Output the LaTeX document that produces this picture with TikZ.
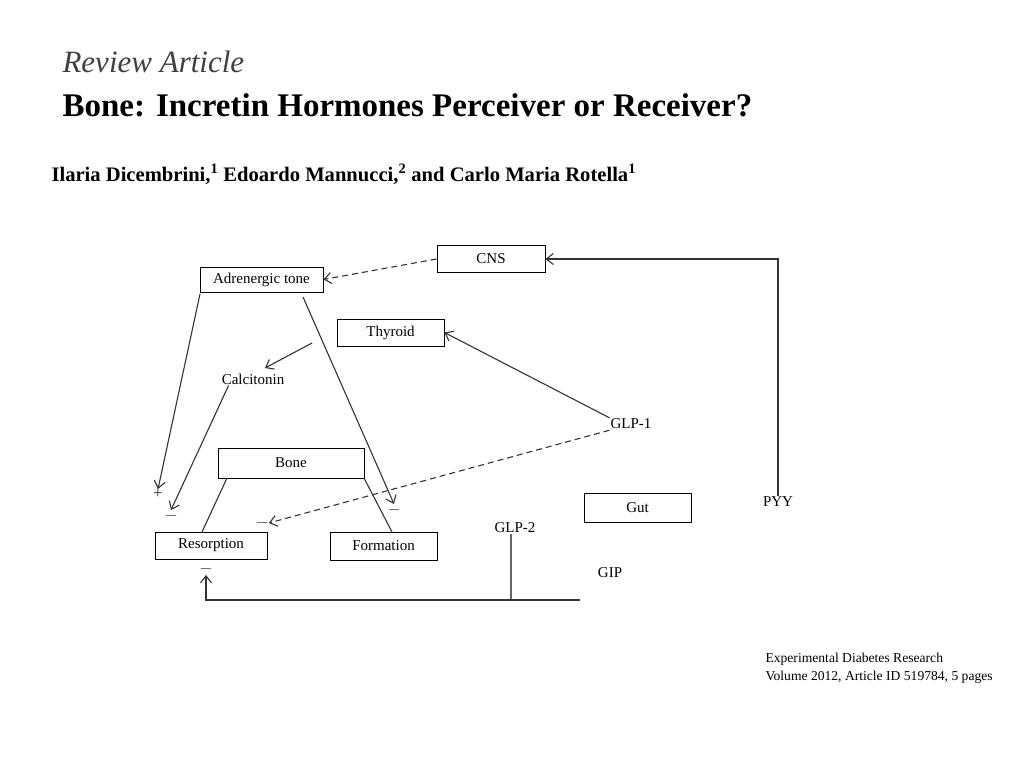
\documentclass[tikz,border=0pt]{standalone}
\usepackage{fontspec}
\setmainfont{Liberation Serif}
\usetikzlibrary{arrows.meta}
\begin{document}
\begin{tikzpicture}[x=1pt,y=-1pt,
  bx/.style={draw,line width=0.9pt,minimum height=27pt,inner sep=0pt,font=\fontsize{15}{17}\selectfont},
  lb/.style={font=\fontsize{15}{17}\selectfont,inner sep=1pt},
  ar/.style={-{Straight Barb[length=7pt,width=11pt]},line width=1.1pt,draw=black!80},
  ln/.style={line width=1.1pt,draw=black!80},
  dsh/.style={dash pattern=on 6pt off 4pt},
  sg/.style={font=\fontsize{17}{19}\selectfont,inner sep=0pt,text=black!80}]
\useasboundingbox (0,0) rectangle (1024,768);
\node[anchor=base west,font=\itshape\fontsize{31}{34}\selectfont,text=black!75] at (59,72) {Review Article};
\node[anchor=base west,font=\bfseries\fontsize{33}{36}\selectfont] at (59,116) {Bone: Incretin Hormones Perceiver or Receiver?};
\node[anchor=base west,font=\bfseries\fontsize{20.6}{23}\selectfont] at (48,181) {Ilaria Dicembrini,\textsuperscript{1} Edoardo Mannucci,\textsuperscript{2} and Carlo Maria Rotella\textsuperscript{1}};
\node[bx,minimum width=108pt] (cns) at (491,259) {CNS};
\node[bx,minimum width=123pt,minimum height=25pt] (adr) at (261.5,279.5) {Adrenergic tone};
\node[bx,minimum width=107pt] (thy) at (390.5,332.5) {Thyroid};
\node[bx,minimum width=146pt,minimum height=30pt] (bone) at (291,463) {Bone};
\node[bx,minimum width=112pt] (res) at (211,545.5) {Resorption};
\node[bx,minimum width=107pt,minimum height=28pt] (form) at (383.5,546) {Formation};
\node[bx,minimum width=107pt,minimum height=29pt] (gut) at (637.5,507.5) {Gut};
\node[lb] (cal) at (253,379) {Calcitonin};
\node[lb] (glp1) at (631,424) {GLP-1};
\node[lb] (pyy) at (778,502) {PYY};
\node[lb] (glp2) at (515,528) {GLP-2};
\node[lb] (gip) at (610,573) {GIP};
\node[sg] (p1) at (158,494) {+};
\node[sg] (m1) at (171,516) {$-$};
\node[sg] (m2) at (394,510) {$-$};
\node[sg] (m3) at (262,523) {$-$};
\node[sg] (m4) at (206,569) {$-$};
\coordinate (ac) at (312,343);
\coordinate (gb) at (580,600);
\coordinate (gc) at (511,600);
\draw[ar,dsh] (cns.west) -- (adr.east);
\draw[ar] (pyy.north) |- (cns.east);
\draw[ar] (200,294) -- (p1.north);
\draw[ar] (303,297) -- (m2.north);
\draw[ar] (ac) -- (265,368);
\draw[ar] (cal.south west) ++(8,0) -- (m1.north);
\draw[ar] (glp1.north west) -- (thy.east);
\draw[ar,dsh] (glp1.south west) -- (m3.east);
\draw[ln] (227,478) -- (202,532);
\draw[ln] (364,478) -- (392,532);
\draw[ln,draw=black!60] (glp2.south -| gc) -- (gc);
\draw[ar] (gb) -| (m4.south);
\node[anchor=base west,font=\fontsize{13.6}{16}\selectfont] at (762,662) {Experimental Diabetes Research};
\node[anchor=base west,font=\fontsize{13.6}{16}\selectfont] at (762,680) {Volume 2012, Article ID 519784, 5 pages};
\end{tikzpicture}
\end{document}
